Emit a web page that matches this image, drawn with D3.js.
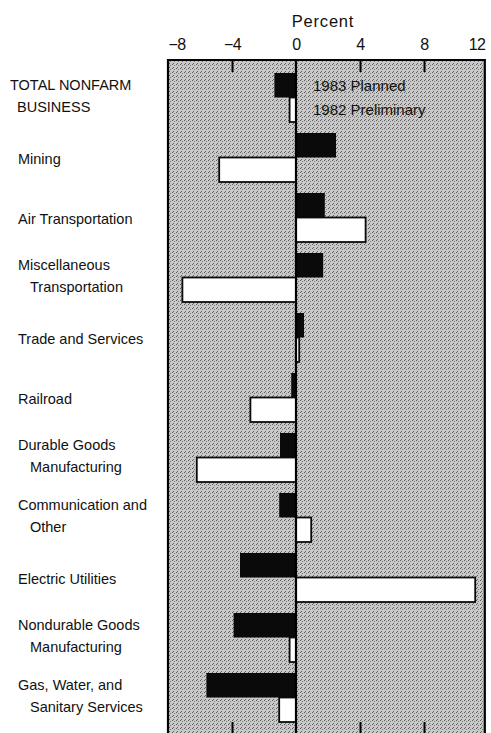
<!DOCTYPE html>
<html>
<head>
<meta charset="utf-8">
<script src="https://cdn.jsdelivr.net/npm/d3@7"></script>
<style>
  html, body { margin: 0; padding: 0; background: #fff; }
  svg { display: block; }
  text { font-family: "Liberation Sans", Arial, sans-serif; fill: #111; }
</style>
</head>
<body>
<svg id="chart" width="491" height="733"></svg>
<script>
// ---- data ----
const categories = [
  "TOTAL NONFARM\nBUSINESS",
  "Mining",
  "Air Transportation",
  "Miscellaneous\nTransportation",
  "Trade and Services",
  "Railroad",
  "Durable Goods\nManufacturing",
  "Communication and\nOther",
  "Electric Utilities",
  "Nondurable Goods\nManufacturing",
  "Gas, Water, and\nSanitary Services"
];
const seriesNames = ["1983 Planned", "1982 Preliminary"];
const planned1983     = [-1.35, 2.5, 1.8, 1.7, 0.5, -0.3, -1.0, -1.05, -3.5, -3.9, -5.6];
const preliminary1982 = [-0.4, -4.8, 4.35, -7.1, 0.2, -2.85, -6.2, 0.95, 11.2, -0.4, -1.05];
const tickValues = [-8, -4, 0, 4, 8, 12];
const axisTitle = "Percent";

// ---- layout ----
const svg = d3.select("#chart");
const frameTop = 60, frameBottom = 740;
const x = d3.scaleLinear().domain([-8, 12]).range([168, 488]);
const xLeft = x(-8), xRight = x(11.8);

const y = d3.scaleBand().domain(categories).range([67, 728])
  .paddingInner(11 / 60).paddingOuter(0.1);
const ySub = d3.scaleBand().domain(seriesNames).range([0, y.bandwidth()]);

// halftone-like stipple pattern
const defs = svg.append("defs");
const pat = defs.append("pattern").attr("id", "stipple")
  .attr("patternUnits", "userSpaceOnUse").attr("width", 4).attr("height", 4);
pat.append("rect").attr("width", 4).attr("height", 4).attr("fill", "#c9c9c9");
[[0, 0, "#5a5a5a"], [2, 1, "#7a7a7a"], [1, 3, "#666"]].forEach(([px, py, c]) =>
  pat.append("rect").attr("x", px).attr("y", py).attr("width", 1).attr("height", 1).attr("fill", c));

// frame background
svg.append("rect")
  .attr("x", xLeft).attr("y", frameTop)
  .attr("width", xRight - xLeft).attr("height", frameBottom - frameTop)
  .attr("fill", "url(#stipple)");

// bars
const rows = categories.map((c, i) => ({ cat: c, values: [planned1983[i], preliminary1982[i]] }));
const g = svg.append("g");
rows.forEach(r => {
  r.values.forEach((v, j) => {
    const s = seriesNames[j];
    g.append("rect")
      .attr("x", x(Math.min(0, v)))
      .attr("y", y(r.cat) + ySub(s))
      .attr("width", Math.abs(x(v) - x(0)))
      .attr("height", ySub.bandwidth())
      .attr("fill", j === 0 ? "#0a0a0a" : "#ffffff")
      .attr("stroke", "#0a0a0a")
      .attr("stroke-width", j === 0 ? 0 : 1.8);
  });
});

// zero line
svg.append("line")
  .attr("x1", x(0)).attr("x2", x(0))
  .attr("y1", frameTop).attr("y2", frameBottom)
  .attr("stroke", "#000").attr("stroke-width", 2.2);

// frame border (left, top, right)
svg.append("path")
  .attr("d", `M${xLeft},${frameBottom}V${frameTop}H${xRight}V${frameBottom}`)
  .attr("fill", "none").attr("stroke", "#000").attr("stroke-width", 2.2);

// top axis
const topAxis = svg.append("g").attr("transform", `translate(0,${frameTop})`)
  .call(d3.axisTop(x).tickValues(tickValues).tickSize(-12).tickPadding(10)
    .tickFormat(d => d < 0 ? "\u2212" + Math.abs(d) : String(d)));
topAxis.select(".domain").remove();
topAxis.selectAll(".tick line")
  .attr("stroke", "#000").attr("stroke-width", 2)
  .attr("display", d => (d === -8 || d === 0 || d === 12) ? "none" : null);
topAxis.selectAll(".tick text")
  .attr("font-size", 16).attr("fill", "#111")
  .attr("font-family", "'Liberation Sans', Arial, sans-serif")
  .attr("letter-spacing", -0.5)
  .attr("text-anchor", d => d === -8 ? "start" : d === 12 ? "end" : "middle")
  .attr("dx", d => d === 12 ? -3 : 0);

// bottom axis ticks
const botAxis = svg.append("g").attr("transform", `translate(0,733)`)
  .call(d3.axisBottom(x).tickValues(tickValues.filter(d => d > -8 && d < 12 && d !== 0))
    .tickSize(-11).tickFormat(""));
botAxis.select(".domain").remove();
botAxis.selectAll(".tick line").attr("stroke", "#000").attr("stroke-width", 2);

// axis title
svg.append("text")
  .attr("x", x(2) - 5).attr("y", 27)
  .attr("text-anchor", "middle")
  .attr("font-size", 16.5)
  .attr("letter-spacing", 0.8)
  .text(axisTitle);

// category labels
categories.forEach((c, i) => {
  const lines = c.split("\n");
  const cy = y(c) + y.bandwidth() / 2;
  const t = svg.append("text").attr("font-size", 14.5);
  lines.forEach((ln, k) => {
    let xx = i === 0 ? (k === 0 ? 10 : 17) : (k === 0 ? 18 : 30);
    const yy = lines.length === 1 ? cy + 6 : cy + (k === 0 ? -8 : 14);
    t.append("tspan").attr("x", xx).attr("y", yy).text(ln);
  });
});

// legend next to first group
seriesNames.forEach(s => {
  svg.append("text")
    .attr("x", 313)
    .attr("y", y(categories[0]) + ySub(s) + ySub.bandwidth() / 2 + 5.5)
    .attr("font-size", 15)
    .text(s);
});
</script>
</body>
</html>
